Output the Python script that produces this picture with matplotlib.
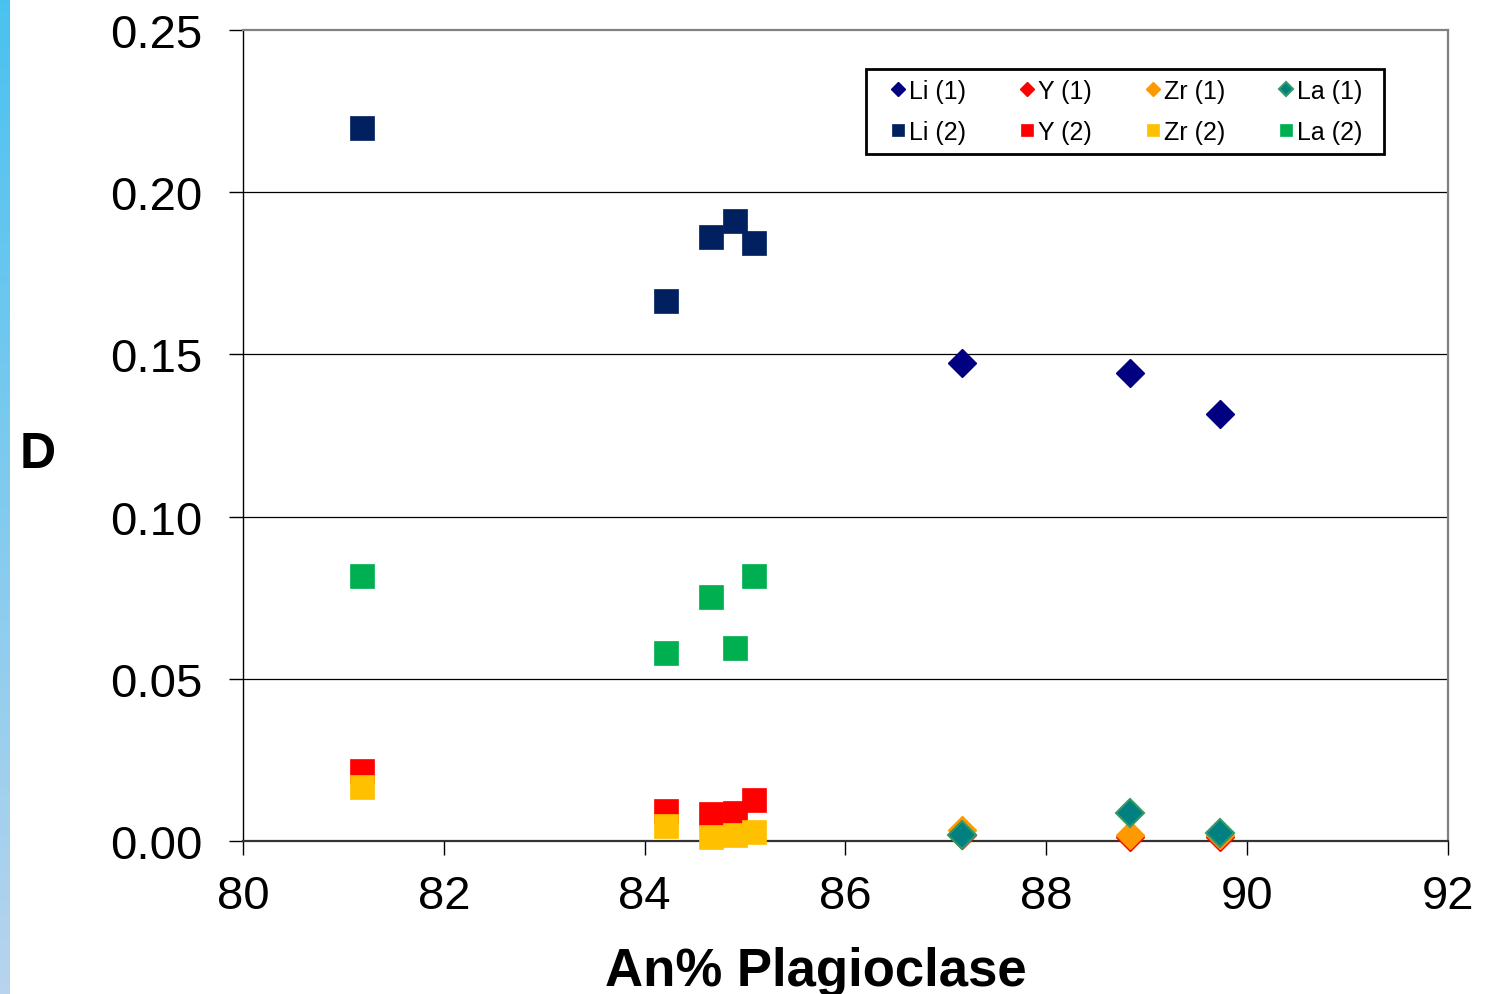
import matplotlib
matplotlib.use("Agg")
import matplotlib.pyplot as plt
from matplotlib.patches import Rectangle
import numpy as np

plt.rcParams['font.family'] = ['Liberation Sans', 'DejaVu Sans']

# An% 数据
an_1 = [87.16, 88.83, 89.73]
an_2 = [81.19, 84.21, 84.66, 84.90, 85.09]

# 系列 (1) —— 菱形
li_1 = [0.1473, 0.1442, 0.1317]
y_1 = [0.0020, 0.0012, 0.0012]
zr_1 = [0.0035, 0.0020, 0.0020]
la_1 = [0.0018, 0.0085, 0.0026]

# 系列 (2) —— 方块
li_2 = [0.2199, 0.1665, 0.1861, 0.1911, 0.1843]
y_2 = [0.0216, 0.0092, 0.0084, 0.0086, 0.0125]
zr_2 = [0.0166, 0.0046, 0.0012, 0.0020, 0.0027]
la_2 = [0.0817, 0.0578, 0.0751, 0.0595, 0.0817]

x_ticks = [80, 82, 84, 86, 88, 90, 92]
y_ticks = [0.00, 0.05, 0.10, 0.15, 0.20, 0.25]

fig = plt.figure(figsize=(14.99, 9.95), dpi=100)
ax = fig.add_axes([243 / 1499, 1 - 842 / 995, 1205 / 1499, 811 / 995])

# 左侧渐变条
strip = fig.add_axes([0, 0, 10 / 1499, 1])
grad = np.linspace(0, 1, 256)[:, None, None]
top_c = np.array([0.29, 0.76, 0.94])
bot_c = np.array([0.72, 0.83, 0.93])
strip.imshow(top_c * (1 - grad) + bot_c * grad, aspect='auto')
strip.axis('off')

for v in y_ticks[1:-1]:
    ax.axhline(v, color='black', lw=0.9, zorder=1)

dia = dict(marker='D', ms=14.5, ls='none', zorder=3, clip_on=False)
sq = dict(marker='s', ms=17, ls='none', zorder=3, clip_on=False)

h_li1 = ax.plot(an_1, li_1, color='#000080', mec='#000080', mew=1, label='Li (1)', **dia)[0]
h_y1 = ax.plot(an_1, y_1, color='#FF0000', mec='#FF0000', mew=1, label='Y (1)', **dia)[0]
h_zr1 = ax.plot(an_1, zr_1, color='#FF9900', mec='#FF9900', mew=1, label='Zr (1)', **dia)[0]
h_la1 = ax.plot(an_1, la_1, color='#008080', mec='#339966', mew=1.5, label='La (1)', **dia)[0]
h_li2 = ax.plot(an_2, li_2, color='#002060', mec='#002060', mew=0.5, label='Li (2)', **sq)[0]
h_y2 = ax.plot(an_2, y_2, color='#FF0000', mec='#FF0000', mew=0.5, label='Y (2)', **sq)[0]
h_zr2 = ax.plot(an_2, zr_2, color='#FFC000', mec='#FFC000', mew=0.5, label='Zr (2)', **sq)[0]
h_la2 = ax.plot(an_2, la_2, color='#00B050', mec='#00B050', mew=0.5, label='La (2)', **sq)[0]
# 图例按列排列：上行 (1)，下行 (2)
handles = [h_li1, h_li2, h_y1, h_y2, h_zr1, h_zr2, h_la1, h_la2]

ax.set_xlim(80, 92)
ax.set_ylim(0, 0.25)
ax.set_xticks(x_ticks)
ax.set_yticks(y_ticks)
ax.set_yticklabels([f"{v:.2f}" for v in y_ticks])
ax.tick_params(axis='both', direction='out', length=10, width=1, labelsize=34, color='black')
ax.tick_params(axis='y', pad=19)
ax.tick_params(axis='x', pad=14)

for side in ['top', 'right']:
    ax.spines[side].set_color('#808080')
    ax.spines[side].set_linewidth(1.6)
ax.spines['left'].set_color('black')
ax.spines['left'].set_linewidth(1.0)
ax.spines['bottom'].set_color('#333333')
ax.spines['bottom'].set_linewidth(1.6)

ax.set_xlabel("An% Plagioclase", fontsize=38, fontweight='bold')
ax.xaxis.set_label_coords(0.4755, -0.129)
ax.set_ylabel("D", fontsize=36, fontweight='bold', rotation=0, ha='center', va='center')
ax.yaxis.set_label_coords(-0.170, 0.477)

# 图例外框（Excel 风格，右侧留白较宽）
ax.add_patch(Rectangle(((866 - 243) / 1205, (842 - 155) / 811), 518 / 1205, 85 / 811,
                       transform=ax.transAxes, facecolor='white', edgecolor='black',
                       lw=2, zorder=4, clip_on=False))
leg = ax.legend(handles=handles, ncol=4, loc='upper right',
                bbox_to_anchor=((1372 - 243) / 1205, 0.952), borderaxespad=0,
                fontsize=18, markerscale=0.5, handlelength=1.6, handletextpad=-0.36,
                columnspacing=1.63, borderpad=0.4, labelspacing=0.69,
                frameon=False)
leg.set_zorder(5)

fig.savefig("out.png", dpi=100)
